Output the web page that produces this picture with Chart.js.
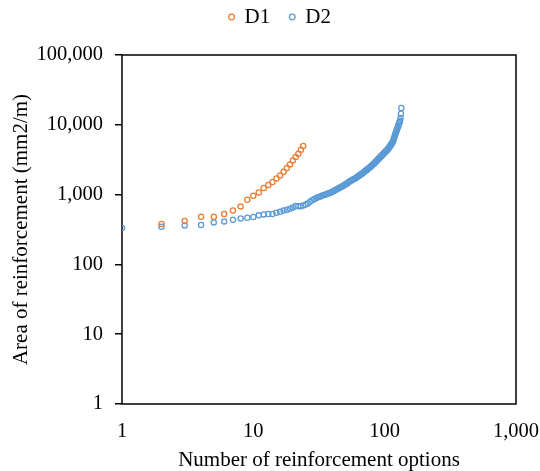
<!DOCTYPE html>
<html>
<head>
<meta charset="utf-8">
<script src="https://cdn.jsdelivr.net/npm/chart.js@4"></script>
<style>
  body { margin: 0; background: #fff; }
  #wrap { width: 540px; height: 471px; }
</style>
</head>
<body>
<div id="wrap"><canvas id="chart" width="540" height="471"></canvas></div>
<script>
// axis ticks
const xTicks = [1, 10, 100, 1000];
const yTicks = [1, 10, 100, 1000, 10000, 100000];

// D1
const d1X = [2, 3, 4, 5, 6, 7, 8, 9, 10, 11, 12, 13, 14, 15, 16, 17, 18, 19, 20, 21, 22, 23, 24];
const d1Y = [379, 418, 482, 482, 527, 594, 678, 845, 964, 1076, 1244, 1373, 1516, 1707, 1884, 2129, 2405, 2710, 3090, 3457, 3855, 4398, 4970];

// D2
const d2X = [
  1, 2, 3, 4, 5, 6, 7, 8, 9, 10, 11, 12, 13, 14, 15, 16, 17, 18, 19, 20,
  21, 22, 23, 24, 25, 26, 27, 28, 29, 30, 31, 32, 33, 34, 35, 36, 37, 38, 39, 40,
  41, 42, 43, 44, 45, 46, 47, 48, 49, 50, 51, 52, 53, 54, 55, 56, 57, 58, 59, 60,
  61, 62, 63, 64, 65, 66, 67, 68, 69, 70, 71, 72, 73, 74, 75, 76, 77, 78, 79, 80,
  81, 82, 83, 84, 85, 86, 87, 88, 89, 90, 91, 92, 93, 94, 95, 96, 97, 98, 99, 100,
  101, 102, 103, 104, 105, 106, 107, 108, 109, 110, 111, 112, 113, 114, 115, 116, 117, 118, 119, 120,
  121, 122, 123, 124, 125, 126, 127, 128, 129, 130, 131, 132, 133, 134
];
const d2Y = [
  332, 347, 362, 367, 400, 413, 437, 456, 467, 478, 504, 520, 527, 527, 550, 569, 594, 608, 628, 656,
  687, 680, 683, 700, 720, 745, 790, 830, 860, 890, 920, 935, 955, 975, 995, 1015, 1035, 1055, 1075, 1100,
  1125, 1150, 1180, 1210, 1240, 1270, 1300, 1330, 1360, 1390, 1420, 1460, 1500, 1540, 1570, 1600, 1630, 1660, 1690, 1720,
  1760, 1800, 1840, 1870, 1910, 1950, 1990, 2030, 2070, 2120, 2170, 2210, 2260, 2310, 2360, 2400, 2450, 2500, 2560, 2620,
  2680, 2740, 2800, 2860, 2920, 2990, 3060, 3130, 3200, 3270, 3340, 3410, 3480, 3550, 3620, 3700, 3780, 3860, 3940, 4020,
  4100, 4180, 4260, 4330, 4400, 4500, 4610, 4720, 4840, 4960, 5080, 5210, 5350, 5500, 5680, 5880, 6150, 6450, 6800, 7150,
  7500, 7850, 8200, 8500, 8900, 9300, 9700, 10100, 10600, 11000, 11450, 12500, 14400, 17400
];

const toPoints = (xs, ys) => xs.map((x, i) => ({ x: x, y: ys[i] }));
const fmt = v => Number(v).toLocaleString('en-US');
const serif = '"Liberation Serif", "Times New Roman", serif';

// box around the plot area + legend placement
const frame = {
  id: 'frame',
  afterInit(chart) {
    const lg = chart.legend;
    const fit = lg.fit;
    lg.fit = function () { fit.call(this); this.height = 55; };
  },
  afterLayout(chart) {
    const lg = chart.legend;
    lg.left += 22;
    lg.right += 22;
    lg.top -= 13;
  },
  beforeDatasetsDraw(chart) {
    const a = chart.chartArea;
    const ctx = chart.ctx;
    ctx.save();
    ctx.strokeStyle = '#000';
    ctx.lineWidth = 1.5;
    ctx.strokeRect(a.left, a.top, a.right - a.left, a.bottom - a.top);
    ctx.restore();
  }
};

new Chart(document.getElementById('chart'), {
  type: 'scatter',
  data: {
    datasets: [
      {
        label: 'D1',
        data: toPoints(d1X, d1Y),
        borderColor: '#ED7D31',
        backgroundColor: 'rgba(255,255,255,0)',
        borderWidth: 1.3,
        pointRadius: 2.6,
        pointBorderWidth: 1.3
      },
      {
        label: 'D2',
        data: toPoints(d2X, d2Y),
        borderColor: '#5B9BD5',
        backgroundColor: 'rgba(255,255,255,0)',
        borderWidth: 1.3,
        pointRadius: 2.6,
        pointBorderWidth: 1.3
      }
    ]
  },
  options: {
    responsive: false,
    animation: false,
    devicePixelRatio: 1,
    layout: { padding: { left: 0, right: 24, top: 0, bottom: 0 } },
    plugins: {
      legend: {
        display: true,
        position: 'top',
        labels: {
          usePointStyle: true,
          pointStyle: 'circle',
          boxWidth: 5,
          boxHeight: 4,
          padding: 19.5,
          color: '#000',
          font: { family: serif, size: 21 }
        }
      },
      tooltip: { enabled: false }
    },
    scales: {
      x: {
        type: 'logarithmic',
        min: 1,
        max: 1000,
        afterBuildTicks: s => { s.ticks = xTicks.map(v => ({ value: v })); },
        afterFit: s => { s.height = 67; s.paddingLeft = 0; s.paddingRight = 0; },
        border: { display: false },
        grid: { display: false, drawTicks: false },
        ticks: {
          padding: 15,
          color: '#000',
          maxRotation: 0,
          font: { family: serif, size: 20.5 },
          callback: v => fmt(v)
        },
        title: {
          display: true,
          text: 'Number of reinforcement options',
          color: '#000',
          padding: { top: 0, bottom: 0 },
          font: { family: serif, size: 21, lineHeight: 1 }
        }
      },
      y: {
        type: 'logarithmic',
        min: 1,
        max: 100000,
        afterBuildTicks: s => { s.ticks = yTicks.map(v => ({ value: v })); },
        afterFit: s => { s.width = 122; },
        border: { display: false },
        grid: {
          display: true,
          drawOnChartArea: false,
          drawTicks: true,
          tickLength: 7,
          color: '#000',
          lineWidth: 1.5
        },
        ticks: {
          padding: 12,
          color: '#000',
          font: { family: serif, size: 20.5 },
          callback: v => fmt(v)
        },
        title: {
          display: true,
          text: 'Area of reinforcement (mm2/m)',
          color: '#000',
          padding: { top: 9, bottom: 0 },
          font: { family: serif, size: 21 }
        }
      }
    }
  },
  plugins: [frame]
});
</script>
</body>
</html>
